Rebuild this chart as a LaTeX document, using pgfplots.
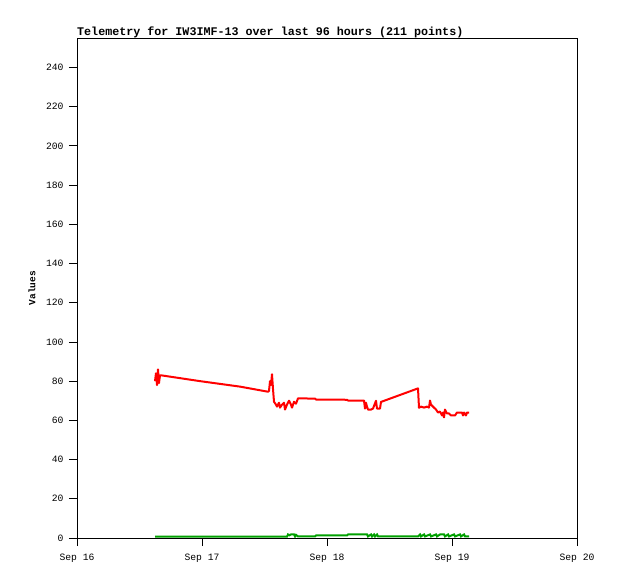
\documentclass[border=0pt]{standalone}
\usepackage{pgfplots}
\pgfplotsset{compat=1.18}
\usepackage{fontspec}
\setmainfont{Liberation Mono}
\definecolor{telred}{RGB}{255,0,0}
\definecolor{telgreen}{RGB}{0,160,0}

\begin{document}
\begin{tikzpicture}
\useasboundingbox (-77bp,-41bp) rectangle (541bp,538bp);
\begin{axis}[
  at={(0,0)}, anchor=origin,
  scale only axis,
  width=500bp, height=500bp,
  xmin=0, xmax=4,
  ymin=0, ymax=255,
  xtick={0,1,2,3,4},
  xticklabels={Sep 16,Sep 17,Sep 18,Sep 19,Sep 20},
  ytick={0,20,...,240},
  tick align=outside,
  major tick length=8bp,
  xtick pos=bottom, ytick pos=left,
  axis line style={line width=0.8bp},
  every tick/.style={black, line width=0.8bp},
  /pgf/number format/assume math mode=true,
  tick label style={font=\fontsize{9.7bp}{11bp}\selectfont},
  yticklabel style={xshift=-2bp},
  xticklabel style={yshift=-4bp},
  ylabel={Values},
  ylabel style={font=\bfseries\fontsize{9.5bp}{11bp}\selectfont, at={(axis description cs:-0.09,0.5)}, anchor=center},
  title={Telemetry for IW3IMF-13 over last 96 hours (211 points)},
  title style={font=\bfseries\fontsize{11.7bp}{13bp}\selectfont, at={(axis description cs:0,1)}, anchor=south west, inner sep=0pt, yshift=-6bp},
  clip=false,
]
% voltage-like red series
\addplot[telred, line width=2bp, line join=round] coordinates {
(0.624,80) (0.632,84) (0.640,78) (0.648,86) (0.656,79) (0.664,83) (0.680,82.9)
(0.984,80.0) (1.304,77.2) (1.528,74.6)
(1.536,75) (1.544,80) (1.552,78) (1.560,83.5) (1.568,76) (1.576,69.5)
(1.592,68) (1.600,67) (1.616,69) (1.624,66.5) (1.640,68) (1.656,69) (1.664,65.5)
(1.680,68) (1.696,70) (1.712,68) (1.720,66.5) (1.736,69.5) (1.752,68.5) (1.768,71.2)
(1.904,71.1) (1.912,70.6) (2.160,70.5) (2.168,70.1) (2.296,70.1)
(2.304,66) (2.312,69) (2.320,67) (2.328,65.5) (2.352,65.5) (2.368,66) (2.392,70)
(2.400,66) (2.424,66) (2.432,69.4) (2.728,76.3)
(2.736,66.4) (2.752,67) (2.776,66.5) (2.800,67) (2.816,66.5) (2.824,70.1) (2.832,68)
(2.848,67) (2.872,65.5) (2.888,64) (2.904,64.5) (2.920,62.5) (2.928,64) (2.936,61.5)
(2.944,65.5) (2.960,63.5) (2.976,63.5) (2.992,62.5) (3.024,62.5) (3.040,64) (3.080,64)
(3.088,62.5) (3.096,64) (3.112,62.5) (3.120,64) (3.136,64)
};
% green series near zero
\addplot[telgreen, line width=2bp] coordinates {
(0.624,0.7) (1.680,0.7) (1.688,1.8) (1.700,1.4) (1.712,1.8) (1.736,1.8) (1.744,0.8)
(1.752,1.6) (1.768,0.8) (1.904,0.8) (1.912,1.3) (2.160,1.3) (2.168,1.8) (2.320,1.8)
(2.328,0.8) (2.352,1.8) (2.360,0.8) (2.376,1.8) (2.384,0.8) (2.400,1.8) (2.408,0.8)
(2.728,0.8) (2.744,1.8) (2.752,0.8) (2.776,1.8) (2.784,0.8) (2.824,1.8) (2.832,0.8)
(2.872,1.8) (2.880,0.8) (2.904,1.8) (2.936,1.8) (2.944,0.8) (2.968,1.8) (2.976,0.8)
(3.016,1.8) (3.024,0.8) (3.064,1.8) (3.072,0.8) (3.096,1.8) (3.104,0.8) (3.136,0.8)
};
\end{axis}
\end{tikzpicture}
\end{document}
